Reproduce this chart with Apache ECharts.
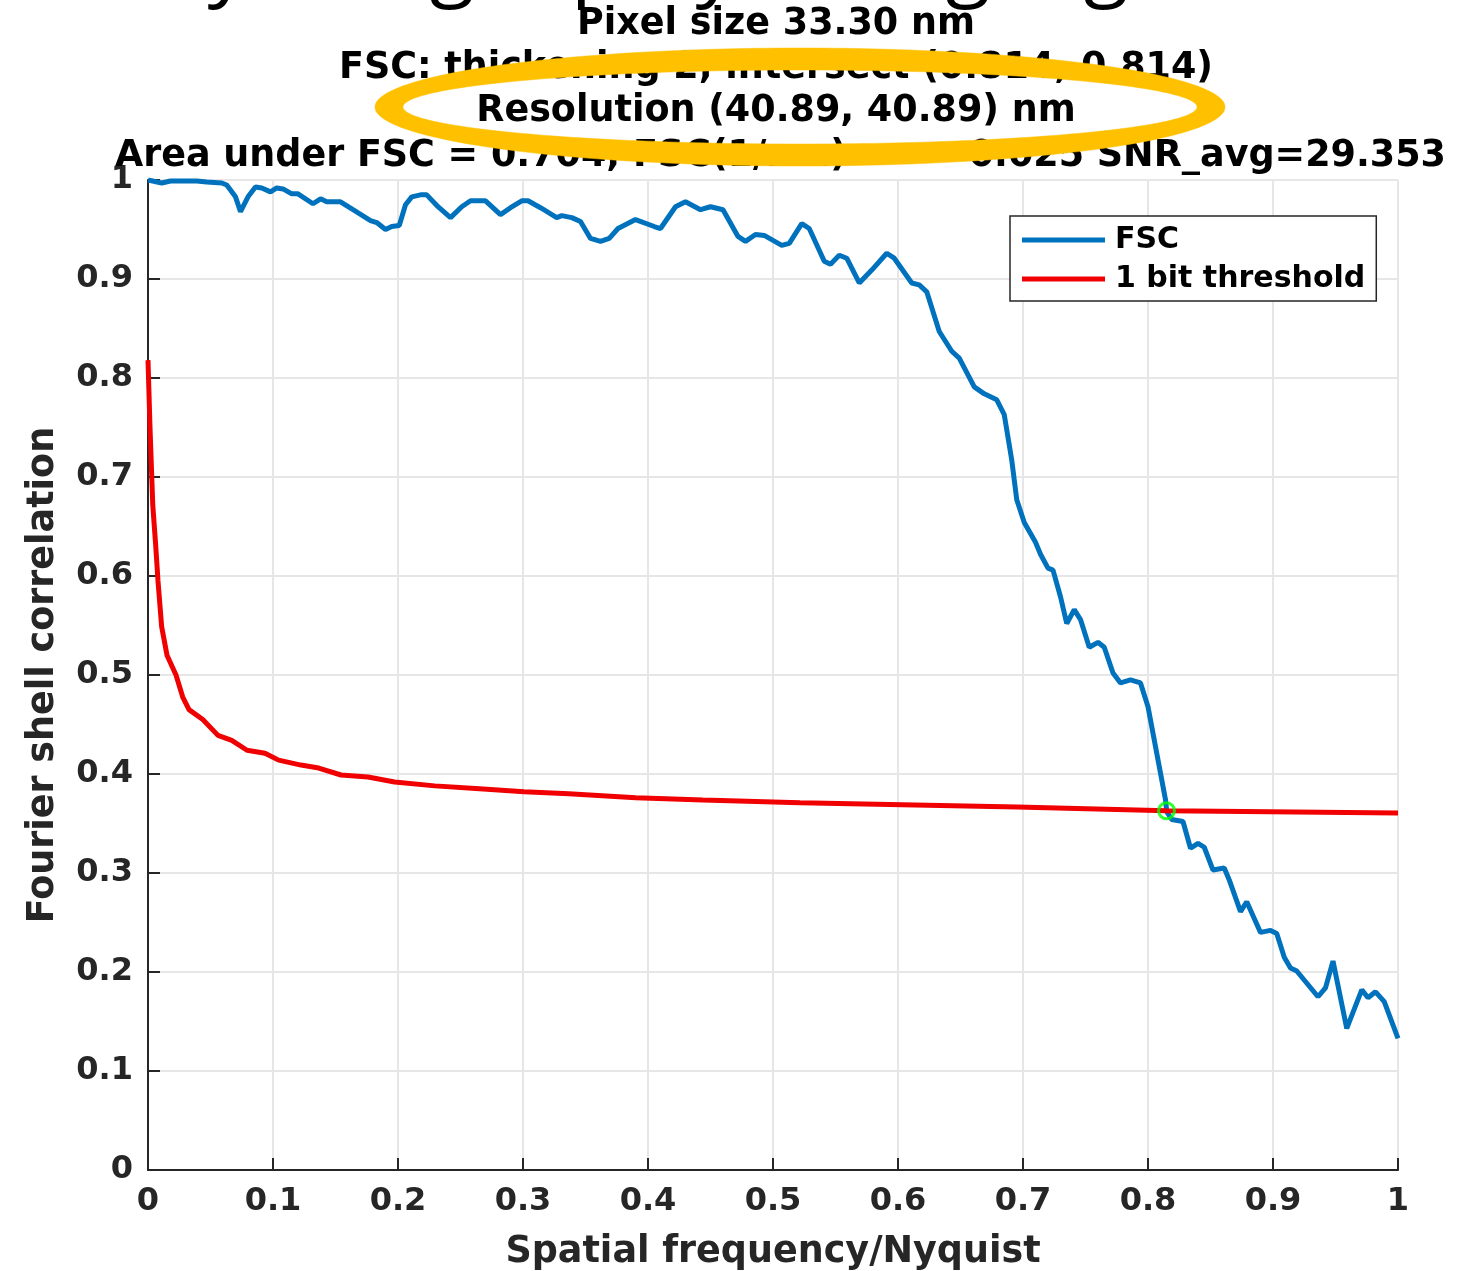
<!DOCTYPE html>
<html>
<head>
<meta charset="utf-8">
<script src="https://cdn.jsdelivr.net/npm/echarts@6/dist/echarts.min.js"></script>
<style>html,body{margin:0;padding:0;background:#fff}#c{width:1482px;height:1271px}</style>
</head>
<body>
<div id="c"></div>
<script>
// ---- data ----
const fscX = [0.000,0.011,0.018,0.039,0.047,0.059,0.063,0.070,0.074,0.080,0.086,0.091,0.098,0.103,0.108,0.115,0.120,0.132,0.138,0.143,0.154,0.164,0.178,0.183,0.190,0.195,0.201,0.206,0.211,0.218,0.223,0.232,0.242,0.251,0.258,0.270,0.282,0.290,0.299,0.304,0.314,0.327,0.331,0.339,0.346,0.354,0.362,0.369,0.376,0.390,0.405,0.410,0.422,0.430,0.442,0.450,0.460,0.472,0.478,0.486,0.493,0.507,0.513,0.523,0.529,0.541,0.546,0.553,0.559,0.569,0.579,0.591,0.597,0.611,0.617,0.623,0.633,0.643,0.649,0.661,0.669,0.679,0.685,0.691,0.695,0.701,0.710,0.714,0.720,0.724,0.730,0.735,0.741,0.746,0.753,0.760,0.765,0.772,0.778,0.786,0.794,0.800,0.814,0.815,0.819,0.828,0.834,0.840,0.845,0.852,0.861,0.865,0.874,0.879,0.890,0.898,0.903,0.909,0.914,0.919,0.936,0.942,0.948,0.959,0.971,0.976,0.982,0.989,1.000];
const fscY = [1.000,0.997,0.999,0.999,0.998,0.997,0.995,0.983,0.968,0.983,0.993,0.992,0.988,0.992,0.991,0.986,0.986,0.976,0.981,0.978,0.978,0.970,0.959,0.957,0.950,0.953,0.954,0.975,0.983,0.985,0.985,0.973,0.962,0.973,0.979,0.979,0.965,0.972,0.979,0.979,0.972,0.962,0.964,0.962,0.958,0.941,0.938,0.941,0.951,0.960,0.953,0.951,0.973,0.978,0.970,0.973,0.970,0.943,0.938,0.945,0.944,0.934,0.936,0.956,0.951,0.918,0.915,0.924,0.921,0.896,0.909,0.926,0.921,0.896,0.894,0.887,0.847,0.827,0.820,0.791,0.784,0.778,0.763,0.717,0.677,0.654,0.634,0.622,0.608,0.606,0.579,0.552,0.566,0.556,0.528,0.533,0.528,0.502,0.492,0.495,0.492,0.468,0.374,0.362,0.354,0.352,0.325,0.330,0.326,0.303,0.305,0.293,0.261,0.271,0.240,0.242,0.239,0.215,0.204,0.201,0.175,0.184,0.211,0.143,0.182,0.174,0.180,0.170,0.133];

const thrX = [0.000,0.0016,0.0038,0.0062,0.008,0.0109,0.0152,0.0224,0.0277,0.0328,0.0438,0.056,0.067,0.0792,0.0936,0.1045,0.1224,0.1366,0.1544,0.176,0.1973,0.2294,0.2652,0.3008,0.3366,0.3902,0.4438,0.5216,0.6952,0.8148,1.000];
const thrY = [0.818,0.750,0.672,0.630,0.595,0.549,0.520,0.500,0.478,0.465,0.455,0.439,0.434,0.424,0.421,0.414,0.409,0.406,0.399,0.397,0.392,0.388,0.385,0.382,0.380,0.376,0.3737,0.371,0.3667,0.3629,0.3606];

const intersectX = [0.8148];
const intersectY = [0.3629];

const seriesNames = ['FSC', '1 bit threshold'];
const titleLines = [
  'Pixel size 33.30 nm',
  'FSC: thickening 2, intersect (0.814, 0.814)',
  'Resolution (40.89, 40.89) nm'
];
const areaLeft = 'Area under FSC = 0.704, FSC(1/nm)';
const areaRight = '= 0.025 SNR_avg=29.353';
const xAxisName = 'Spatial frequency/Nyquist';
const yAxisName = 'Fourier shell correlation';
// partially visible glyphs of a caption cut off at the top edge
const cutGlyphs = ['y', 'g', 'p', 'y', 'g', 'g'];
const cutGlyphPos = [228, 452, 596, 716, 968, 1106];

// ---- chart ----
const zip = (a, b) => a.map((v, i) => [v, b[i]]);
const FONT = '"DejaVu Sans", "Liberation Sans", sans-serif';
const AX = '#262626';

const graphics = [];
titleLines.forEach((t, i) => {
  graphics.push({
    type: 'text', z: 50, x: 776, y: [25, 69, 112][i],
    style: { text: t, fill: '#000', font: 'bold 36.5px ' + FONT, textAlign: 'center', textVerticalAlign: 'middle' }
  });
});
graphics.push({ type: 'text', z: 50, x: 115, y: 157,
  style: { text: areaLeft, fill: '#000', font: 'bold 36.5px ' + FONT, textAlign: 'left', textVerticalAlign: 'middle' } });
graphics.push({ type: 'text', z: 50, x: 1446, y: 157,
  style: { text: areaRight, fill: '#000', font: 'bold 36.5px ' + FONT, textAlign: 'right', textVerticalAlign: 'middle' } });
cutGlyphs.forEach((g, i) => {
  graphics.push({ type: 'text', z: 50, x: cutGlyphPos[i], y: -33,
    style: { text: g, fill: '#000', font: '82px "Open Sans", sans-serif', textAlign: 'center', textVerticalAlign: 'middle' } });
});
// orange highlight ring: outer ellipse one way, inner ellipse back the other way
function ellipsePts(cx, cy, rx, ry, n, reverse) {
  const pts = [];
  for (let i = 0; i <= n; i++) {
    const t = (reverse ? -1 : 1) * 2 * Math.PI * i / n + Math.PI;
    pts.push([cx + rx * Math.cos(t), cy + ry * Math.sin(t)]);
  }
  return pts;
}
const ringPts = ellipsePts(800, 107, 425, 59, 240, false).concat(ellipsePts(800, 107, 397, 37, 240, true));
graphics.push({
  type: 'polygon', z: 100,
  shape: { points: ringPts },
  style: { fill: '#FFC000', stroke: '#FFC000', lineWidth: 0.5 }
});

const chart = echarts.init(document.getElementById('c'), null, { renderer: 'canvas' });
chart.setOption({
  backgroundColor: '#fff',
  animation: false,
  grid: { left: 148, right: 84, top: 180, bottom: 101, containLabel: false, outerBoundsMode: 'none' },
  legend: {
    left: 1010, top: 216, orient: 'vertical',
    backgroundColor: '#fff', borderColor: AX, borderWidth: 1.5, borderRadius: 0,
    padding: [7, 11, 5, 12], itemGap: 5, itemWidth: 83, itemHeight: 5,
    textStyle: { fontFamily: FONT, fontWeight: 'bold', fontSize: 30, color: '#000', lineHeight: 34, padding: [0, 0, 0, 5] },
    data: seriesNames.map(n => ({ name: n, icon: 'rect' }))
  },
  xAxis: {
    type: 'value', min: 0, max: 1, interval: 0.1,
    name: xAxisName, nameLocation: 'middle', nameGap: 64,
    nameTextStyle: { fontFamily: FONT, fontWeight: 'bold', fontSize: 36.5, color: AX },
    axisLine: { show: true, onZero: false, lineStyle: { color: AX, width: 2 } },
    axisTick: { show: true, inside: true, length: 12, lineStyle: { color: AX, width: 2 } },
    axisLabel: { margin: 16, fontFamily: FONT, fontWeight: 'bold', fontSize: 32, color: AX,
      formatter: v => String(Math.round(v * 10) / 10) },
    splitLine: { show: true, lineStyle: { color: '#e6e6e6', width: 2 } }
  },
  yAxis: {
    type: 'value', min: 0, max: 1, interval: 0.1,
    name: yAxisName, nameLocation: 'middle', nameGap: 86,
    nameTextStyle: { fontFamily: FONT, fontWeight: 'bold', fontSize: 36.5, color: AX },
    axisLine: { show: true, onZero: false, lineStyle: { color: AX, width: 2 } },
    axisTick: { show: true, inside: true, length: 12, lineStyle: { color: AX, width: 2 } },
    axisLabel: { margin: 15, fontFamily: FONT, fontWeight: 'bold', fontSize: 32, color: AX,
      formatter: v => String(Math.round(v * 10) / 10) },
    splitLine: { show: true, lineStyle: { color: '#e6e6e6', width: 2 } }
  },
  series: [
    { name: seriesNames[0], type: 'line', data: zip(fscX, fscY), showSymbol: false, symbol: 'none',
      color: '#0072BD', lineStyle: { color: '#0072BD', width: 5 }, z: 3 },
    { name: seriesNames[1], type: 'line', data: zip(thrX, thrY), showSymbol: false, symbol: 'none',
      color: '#F00000', lineStyle: { color: '#F00000', width: 5 }, z: 4 },
    { name: 'intersect', type: 'scatter', data: zip(intersectX, intersectY), symbol: 'circle', symbolSize: 16,
      itemStyle: { color: 'rgba(0,0,0,0)', borderColor: '#00FF00', borderWidth: 3 }, z: 6 }
  ],
  graphic: graphics
});
</script>
</body>
</html>
